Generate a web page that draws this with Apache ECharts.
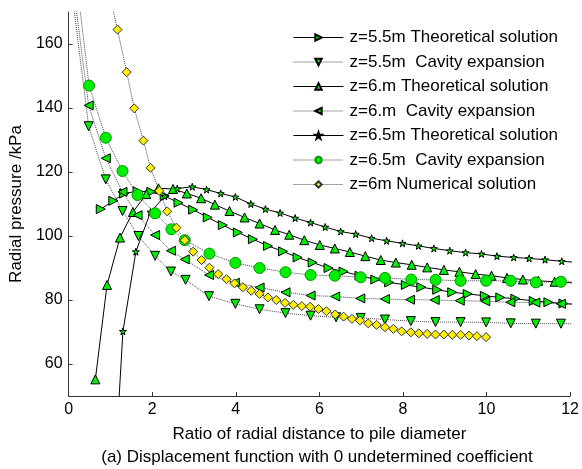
<!DOCTYPE html>
<html>
<head>
<meta charset="utf-8">
<script src="https://cdn.jsdelivr.net/npm/echarts@6/dist/echarts.min.js"></script>
<style>html,body{margin:0;padding:0;background:#fff}#c{width:582px;height:469px}</style>
</head>
<body>
<div id="c"></div>
<script>
// ---- data ----
const xTicks = [0, 2, 4, 6, 8, 10, 12];
const yTicks = [60, 80, 100, 120, 140, 160];

const names = [
  'z=5.5m Theoretical solution',
  'z=5.5m  Cavity expansion',
  'z=6.m Theoretical solution',
  'z=6.m  Cavity expansion',
  'z=6.5m Theoretical solution',
  'z=6.5m  Cavity expansion',
  'z=6m Numerical solution'
];

const th55X = [0.77, 1.07, 1.33, 1.65, 1.98, 2.30, 2.63, 2.98, 3.33, 3.69, 4.05, 4.41, 4.77, 5.13, 5.48, 5.84, 6.22, 6.58, 6.96, 7.34, 7.67, 8.07, 8.44, 8.82, 9.18, 9.55, 9.96, 10.33, 10.69, 11.13, 11.48, 11.84, 12.2];
const th55Y = [108.4, 111.0, 113.3, 114.0, 113.8, 112.5, 110.4, 108.2, 105.8, 103.4, 101.1, 99.0, 96.9, 95.2, 93.3, 91.7, 90.0, 88.9, 87.6, 86.4, 85.5, 84.7, 84.0, 83.2, 82.4, 81.9, 81.3, 80.8, 80.4, 79.7, 79.3, 78.9, 78.6];

const cav55X = [0.10, 0.48, 0.89, 1.29, 1.67, 2.07, 2.45, 2.80, 3.36, 3.99, 4.57, 5.19, 5.79, 6.40, 6.99, 7.57, 8.19, 8.78, 9.38, 9.99, 10.58, 11.18, 11.78, 12.38];
const cav55Y = [174, 134.3, 117.7, 107.8, 100.0, 93.8, 88.9, 86.3, 81.2, 78.8, 77.1, 75.9, 75.1, 74.6, 74.4, 73.9, 73.4, 73.1, 73.1, 73.0, 72.7, 72.6, 72.6, 72.5];

const th6X = [0.64, 0.92, 1.23, 1.54, 1.86, 2.15, 2.50, 2.83, 3.17, 3.50, 3.85, 4.21, 4.57, 4.94, 5.28, 5.64, 6.01, 6.37, 6.73, 7.10, 7.47, 7.83, 8.21, 8.58, 8.98, 9.35, 9.74, 10.12, 10.49, 10.87, 11.24, 11.63, 12.4];
const th6Y = [55.2, 84.7, 99.5, 107.5, 113.1, 114.9, 114.7, 113.3, 111.8, 109.8, 107.8, 105.8, 103.9, 101.9, 100.4, 98.7, 97.2, 96.1, 95.0, 93.7, 92.5, 91.7, 91.0, 90.2, 89.4, 88.8, 88.1, 87.6, 86.9, 86.4, 86.0, 85.7, 85.1];

const cav6X = [0.10, 0.48, 0.89, 1.29, 1.65, 2.07, 2.45, 2.78, 3.36, 3.98, 4.57, 5.19, 5.79, 6.38, 6.98, 7.57, 8.17, 8.76, 9.36, 9.97, 10.57, 11.17, 11.78, 12.38];
const cav6Y = [179, 140.8, 124.3, 113.8, 106.5, 100.3, 95.4, 92.7, 87.8, 85.4, 83.9, 82.4, 81.4, 81.1, 80.5, 80.3, 80.1, 80.0, 79.8, 79.6, 79.3, 79.2, 78.8, 78.6];

const th65X = [0.97, 1.30, 1.61, 1.96, 2.30, 2.60, 2.96, 3.30, 3.64, 3.99, 4.36, 4.71, 5.06, 5.42, 5.79, 6.14, 6.51, 6.87, 7.25, 7.61, 7.99, 8.37, 8.74, 9.12, 9.50, 9.88, 10.25, 10.65, 11.02, 11.40, 11.80, 12.2];
const th65Y = [-4, 70.2, 95.1, 107.5, 112.4, 114.8, 115.4, 114.5, 113.3, 112.2, 110.0, 108.4, 107.2, 105.6, 104.2, 102.8, 101.4, 100.6, 99.3, 98.5, 97.7, 96.9, 96.1, 95.4, 94.8, 94.4, 93.7, 93.3, 93.0, 92.6, 92.1, 91.7];

const cav65X = [0.10, 0.49, 0.89, 1.29, 1.65, 2.07, 2.46, 2.78, 3.37, 3.99, 4.57, 5.19, 5.79, 6.37, 6.99, 7.57, 8.20, 8.78, 9.38, 9.99, 10.58, 11.18, 11.78, 12.38];
const cav65Y = [190, 147.0, 130.7, 120.3, 112.8, 107.1, 102.1, 98.7, 94.5, 91.6, 90.0, 88.7, 87.8, 87.6, 87.1, 86.9, 86.4, 86.3, 86.0, 86.0, 86.0, 85.5, 85.7, 85.6];

const num6X = [0.97, 1.17, 1.39, 1.57, 1.79, 1.96, 2.17, 2.36, 2.58, 2.78, 2.98, 3.18, 3.37, 3.58, 3.78, 3.97, 4.17, 4.37, 4.57, 4.77, 4.97, 5.18, 5.38, 5.58, 5.78, 5.98, 6.17, 6.38, 6.58, 6.78, 6.97, 7.17, 7.37, 7.57, 7.77, 7.97, 8.19, 8.38, 8.58, 8.78, 8.98, 9.18, 9.38, 9.58, 9.77, 9.99];
const num6Y = [176, 164.5, 151.2, 139.9, 129.8, 121.3, 114.1, 107.7, 102.6, 98.7, 95.1, 92.5, 90.1, 88.1, 86.5, 85.2, 84.0, 82.9, 81.9, 80.8, 80.0, 79.1, 78.5, 78.1, 77.9, 77.2, 76.5, 75.5, 74.8, 74.1, 73.6, 72.7, 72.2, 71.5, 71.0, 70.2, 69.9, 69.6, 69.4, 69.2, 69.2, 69.1, 69.1, 68.9, 68.7, 68.4];

// ---- build ----
const zip = (xs, ys) => xs.map((x, i) => [x, ys[i]]);
const FONT = 'Liberation Sans, Arial, sans-serif';
const GREEN = '#00ee00';
const STAR = 'path://M50,0 L61,35 L98,35 L68,57 L79,91 L50,70 L21,91 L32,57 L2,35 L39,35 Z';

function mk(name, data, symbol, rot, size, solid, fill, border) {
  return {
    name: name,
    type: 'line',
    data: data,
    symbol: symbol,
    symbolRotate: rot,
    symbolSize: size,
    showAllSymbol: true,
    clip: true,
    animation: false,
    lineStyle: solid ? { color: '#000', width: 1, type: 'solid' } : { color: '#444', width: 1, type: [1, 1] },
    itemStyle: { color: fill, borderColor: border, borderWidth: 1, opacity: 1 },
    emphasis: { disabled: true },
    z: 2
  };
}

const series = [
  mk(names[0], zip(th55X, th55Y), 'triangle', -90, 9, true, GREEN, '#000'),
  mk(names[1], zip(cav55X, cav55Y), 'triangle', 180, 9, false, GREEN, '#000'),
  mk(names[2], zip(th6X, th6Y), 'triangle', 0, 9, true, GREEN, '#000'),
  mk(names[3], zip(cav6X, cav6Y), 'triangle', 90, 9, false, GREEN, '#000'),
  mk(names[4], zip(th65X, th65Y), STAR, 0, 7, true, GREEN, '#000'),
  mk(names[5], zip(cav65X, cav65Y), 'circle', 0, 11, false, GREEN, '#009900'),
  mk(names[6], zip(num6X, num6Y), 'diamond', 0, 9, false, '#ffee00', '#333')
];

const chart = echarts.init(document.getElementById('c'), null, { renderer: 'canvas' });
chart.setOption({
  backgroundColor: '#fff',
  animation: false,
  textStyle: { fontFamily: FONT, color: '#000' },
  grid: { left: 68, right: 10, top: 12, bottom: 73 },
  legend: {
    orient: 'vertical',
    left: 288,
    top: 24,
    itemWidth: 50,
    itemHeight: 8,
    itemGap: 7.5,
    lineStyle: { width: 1 },
    textStyle: { fontFamily: FONT, fontSize: 17, color: '#000', padding: [0, 0, 0, 1] },
    selectedMode: false,
    data: names
  },
  xAxis: {
    type: 'value',
    min: 0, max: 12, interval: 2,
    name: 'Ratio of radial distance to pile diameter',
    nameLocation: 'middle',
    nameGap: 30,
    nameTextStyle: { fontFamily: FONT, fontSize: 17, color: '#000' },
    axisLine: { show: true, onZero: false, lineStyle: { color: '#333', width: 1 } },
    axisTick: { show: true, inside: true, length: 4, lineStyle: { color: '#333' } },
    axisLabel: { fontFamily: FONT, fontSize: 16, color: '#000', margin: 6 },
    splitLine: { show: false }
  },
  yAxis: {
    type: 'value',
    min: 50, max: 170,
    name: 'Radial pressure /kPa',
    nameLocation: 'middle',
    nameGap: 41,
    nameTextStyle: { fontFamily: FONT, fontSize: 17, color: '#000' },
    axisLine: { show: true, onZero: false, lineStyle: { color: '#333', width: 1 } },
    axisTick: { show: true, inside: true, length: 4, customValues: yTicks, lineStyle: { color: '#333' } },
    axisLabel: { fontFamily: FONT, fontSize: 16, color: '#000', margin: 6, customValues: yTicks },
    splitLine: { show: false }
  },
  graphic: [{
    type: 'text',
    x: 317,
    y: 457,
    style: {
      text: '(a) Displacement function with 0 undetermined coefficient',
      fontFamily: FONT, fontSize: 17, fill: '#000',
      textAlign: 'center', textVerticalAlign: 'middle'
    }
  }],
  series: series
});
</script>
</body>
</html>
